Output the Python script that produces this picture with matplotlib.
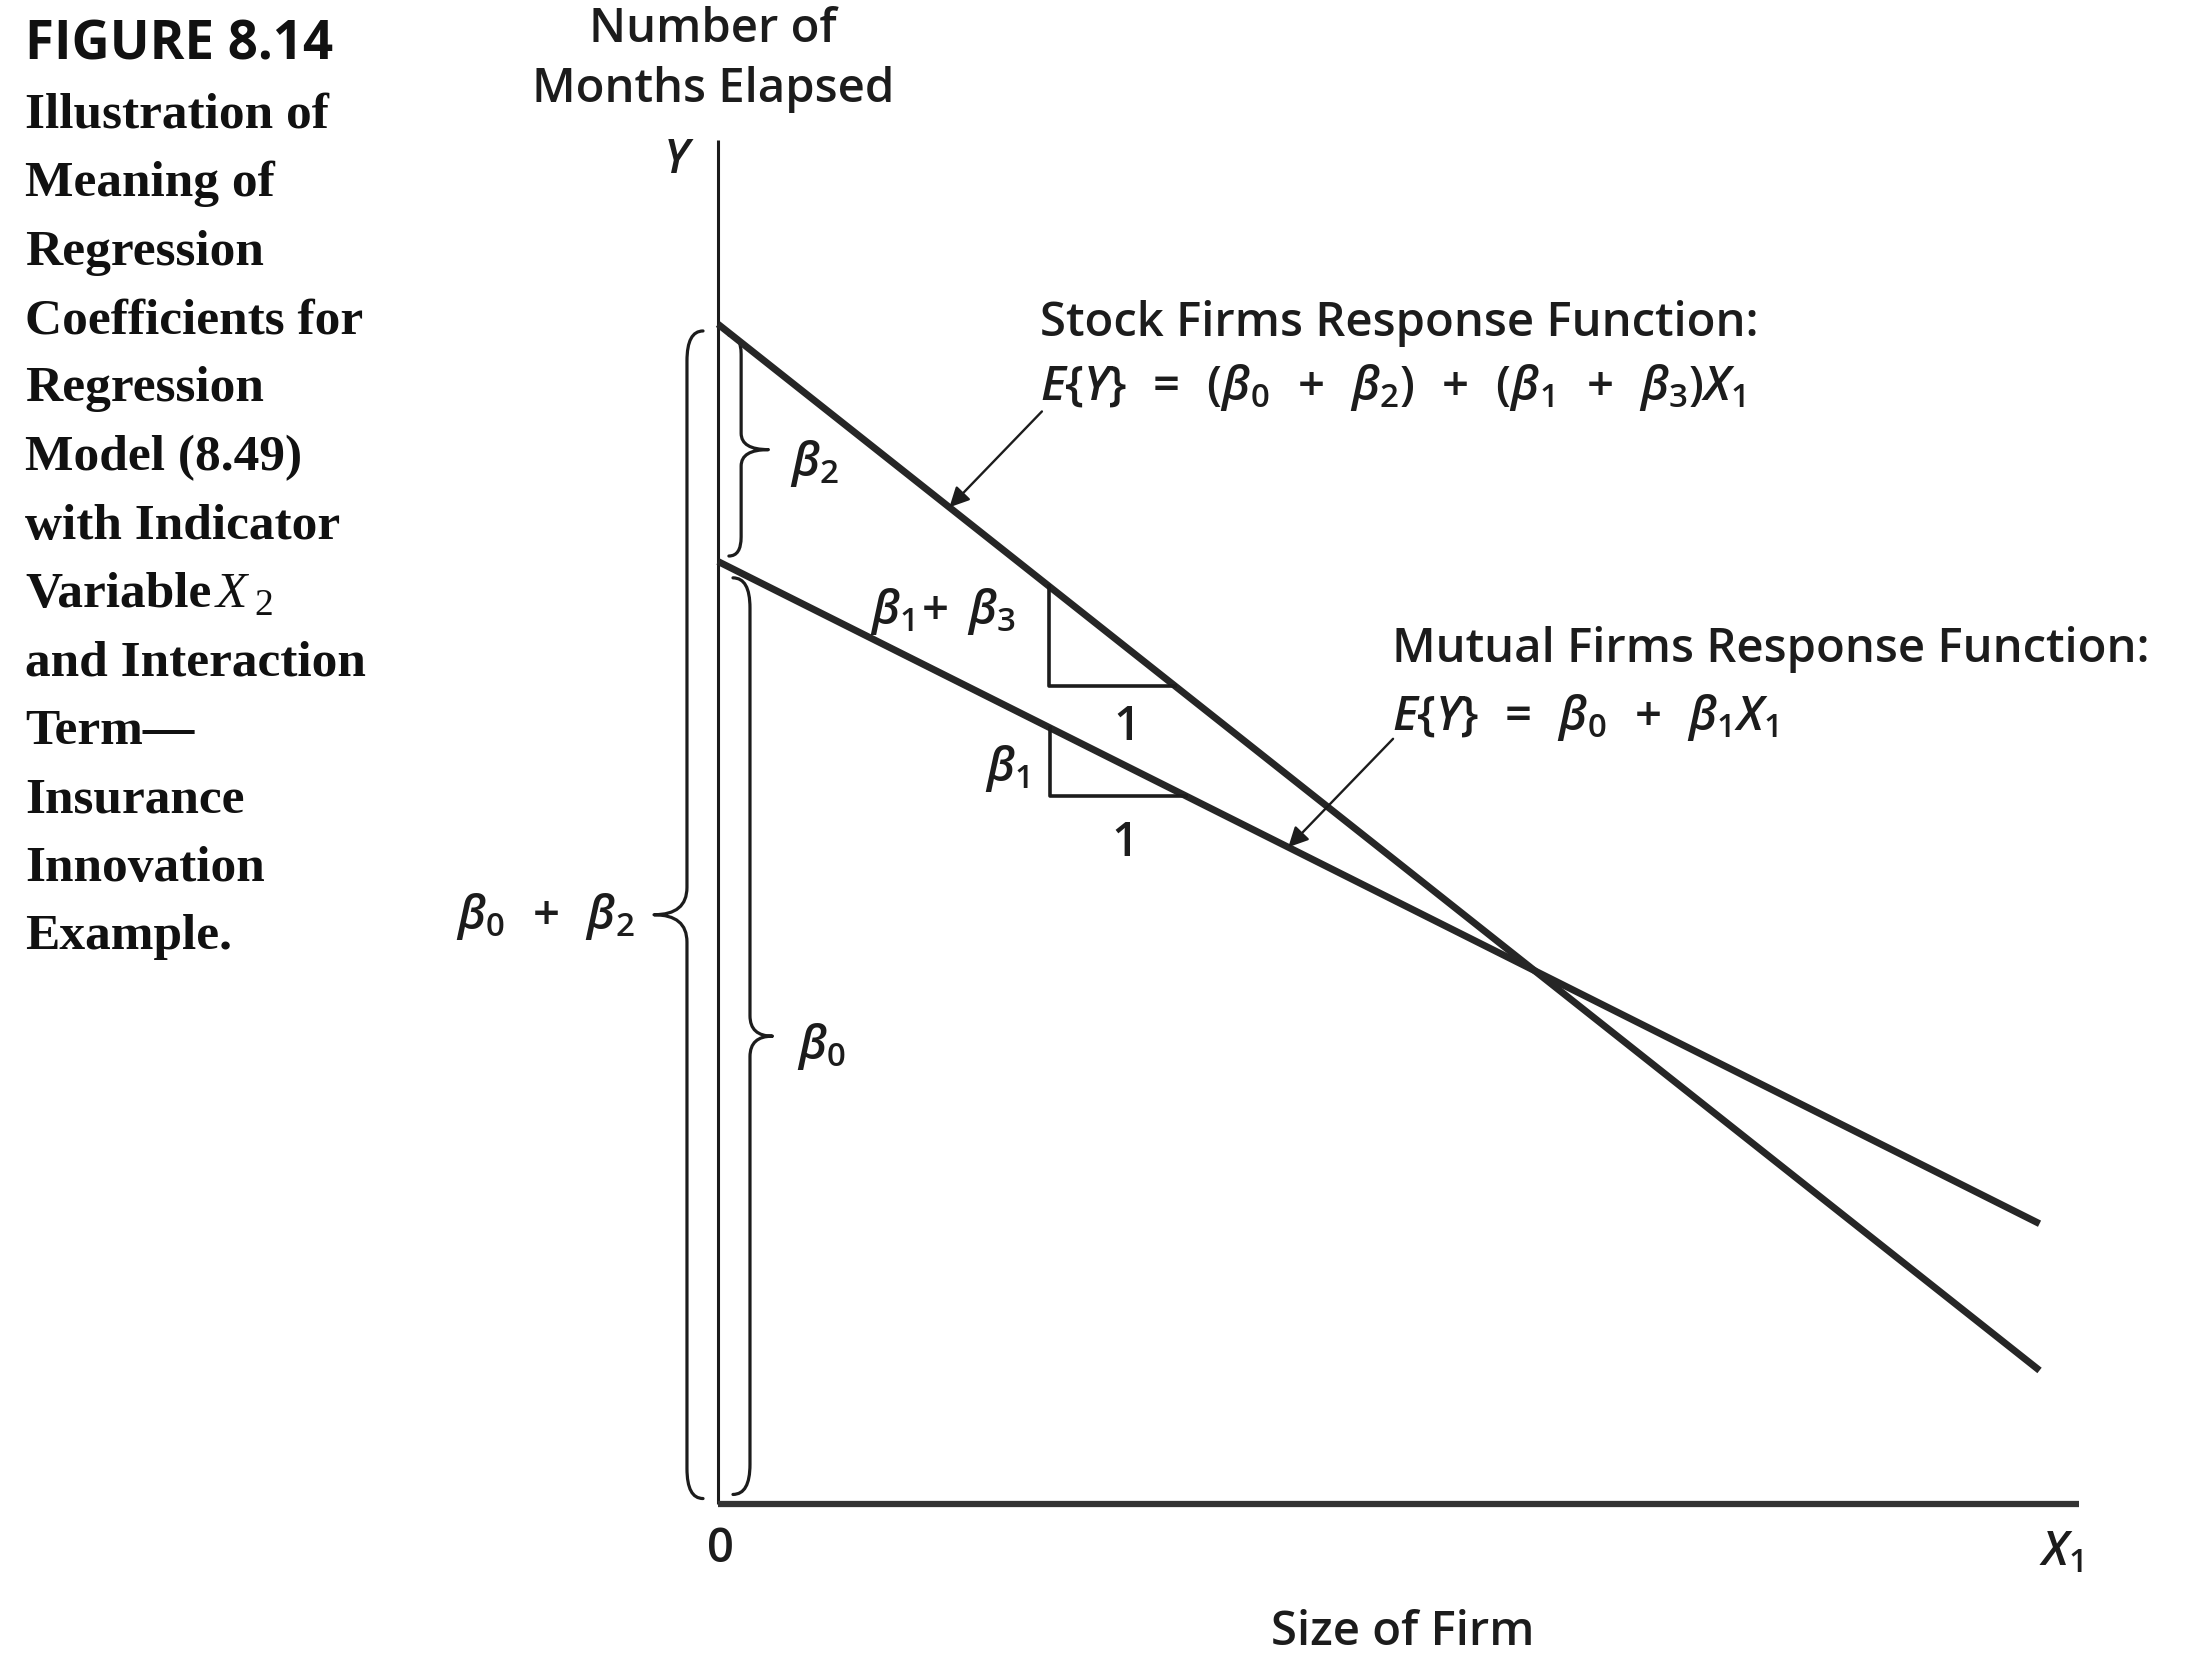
import matplotlib
matplotlib.use("Agg")
import matplotlib.pyplot as plt
from matplotlib.path import Path
from matplotlib.patches import PathPatch
import numpy as np

# ---------------- data (arbitrary units) ----------------
beta0 = 6.91          # mutual-firms intercept
beta2 = 1.74          # stock-firms intercept shift
beta1 = -0.50         # mutual-firms slope
beta3 = -0.29         # slope shift for stock firms
x_line_end = 9.71     # where both response lines stop
x_axis_end = 10.0
y_axis_top = 10.0
tri_stock_x = [2.43, 3.36]   # slope triangle on stock line
tri_mutual_x = [2.44, 3.44]  # slope triangle on mutual line
arrow_stock_x = [2.38, 1.70]   # tail x, tip x (tip sits on the line)
arrow_stock_tail_y = 8.01
arrow_mutual_x = [4.96, 4.19]
arrow_mutual_tail_y = 5.61

caption_lines = ["Illustration of", "Meaning of", "Regression", "Coefficients for",
                 "Regression", "Model (8.49)", "with Indicator", "Variable",
                 "and Interaction", "Term\u2014", "Insurance", "Innovation", "Example."]

INK = "#1c1c1c"
plt.rcParams['mathtext.fontset'] = 'custom'
plt.rcParams['mathtext.rm'] = 'Open Sans:semibold'
plt.rcParams['mathtext.it'] = 'Open Sans:italic:semibold'
plt.rcParams['mathtext.bf'] = 'Open Sans:bold'
plt.rcParams['font.family'] = ['Open Sans', 'DejaVu Sans']

W, H = 2200, 1661
fig = plt.figure(figsize=(W / 100, H / 100), dpi=100)
fig.patch.set_facecolor("white")
ax = fig.add_axes([718 / W, (H - 1504) / H, 1361 / W, 1364 / H])
ax.set_xlim(0, 10)
ax.set_ylim(0, 10)
ax.axis("off")


def ftext(px, py, s, **kw):
    kw.setdefault("color", INK)
    kw.setdefault("fontweight", 600)
    return fig.text(px / W, 1 - py / H, s, **kw)


# ---------------- axes ----------------
ax.plot([0, 0], [0, y_axis_top], color=INK, lw=2.2, solid_capstyle="butt", clip_on=False)
ax.plot([0, x_axis_end], [0, 0], color="#333333", lw=4.5, solid_capstyle="butt", clip_on=False)

# ---------------- response lines ----------------
xs = np.array([0.0, x_line_end])
stock_int, stock_slope = beta0 + beta2, beta1 + beta3
mut_int, mut_slope = beta0, beta1


def stock(x):
    return stock_int + stock_slope * np.asarray(x)


def mutual(x):
    return mut_int + mut_slope * np.asarray(x)


ax.plot(xs, stock(xs), color="#262626", lw=5.0, solid_capstyle="butt", clip_on=False)
ax.plot(xs, mutual(xs), color="#262626", lw=5.0, solid_capstyle="butt", clip_on=False)

# slope triangles
for (a, b), f in ((tri_stock_x, stock), (tri_mutual_x, mutual)):
    ax.plot([a, a, b], [f(a), f(b), f(b)], color=INK, lw=2.6, clip_on=False)

# arrows
ax.annotate("", xy=(arrow_stock_x[1], float(stock(arrow_stock_x[1]))),
            xytext=(arrow_stock_x[0], arrow_stock_tail_y),
            arrowprops=dict(arrowstyle="-|>", lw=1.7, color=INK, mutation_scale=30,
                            shrinkA=0, shrinkB=0))
ax.annotate("", xy=(arrow_mutual_x[1], float(mutual(arrow_mutual_x[1]))),
            xytext=(arrow_mutual_x[0], arrow_mutual_tail_y),
            arrowprops=dict(arrowstyle="-|>", lw=1.7, color=INK, mutation_scale=30,
                            shrinkA=0, shrinkB=0))


# ---------------- braces ----------------
def brace(xs_, y0, y1, tip, hook, r=0.16, rt=0.17, ym=None):
    """Vertical curly brace with spine at xs_, tip at x=tip, ends hooking to x=hook."""
    if ym is None:
        ym = 0.5 * (y0 + y1)
    verts = [(hook, y1), (xs_, y1), (xs_, y1 - r),
             (xs_, ym + rt),
             (xs_, ym), (tip, ym),
             (xs_, ym), (xs_, ym - rt),
             (xs_, y0 + r),
             (xs_, y0), (hook, y0)]
    codes = [Path.MOVETO, Path.CURVE3, Path.CURVE3,
             Path.LINETO,
             Path.CURVE3, Path.CURVE3,
             Path.CURVE3, Path.CURVE3,
             Path.LINETO,
             Path.CURVE3, Path.CURVE3]
    ax.add_patch(PathPatch(Path(verts, codes), fill=False, lw=2.3, edgecolor=INK,
                           capstyle="round", joinstyle="round", clip_on=False))


# big brace left of axis: 0 .. beta0+beta2
brace(-0.228, 0.04, beta0 + beta2 - 0.05, tip=-0.47, hook=-0.11, r=0.22, rt=0.2)
# beta2 brace right of axis
brace(0.17, beta0 + 0.04, beta0 + beta2 - 0.08, tip=0.37, hook=0.08, r=0.14, rt=0.12,
      ym=beta0 + 0.5 * beta2 - 0.05)
# beta0 brace right of axis
brace(0.235, 0.07, beta0 - 0.12, tip=0.40, hook=0.11, r=0.22, rt=0.15)

# ---------------- labels ----------------
FS = 34
S = r"\;\,"
ftext(713, 42, "Number of", ha="center", va="baseline", fontsize=FS)
ftext(713, 102, "Months Elapsed", ha="center", va="baseline", fontsize=FS)
ftext(679, 173, r"$Y$", ha="center", va="baseline", fontsize=FS)
ftext(720, 1562, "0", ha="center", va="baseline", fontsize=FS)
ftext(2039, 1565, r"$X_1$", ha="left", va="baseline", fontsize=FS)
ftext(1403, 1645, "Size of Firm", ha="center", va="baseline", fontsize=FS)

ftext(1040, 336, "Stock Firms Response Function:", ha="left", va="baseline", fontsize=FS)
ftext(1040, 400,
      r"$E\{Y\}" + S + "=" + S + r"(\beta_0" + S + "+" + S + r"\beta_2)" + S + "+" + S
      + r"(\beta_1" + S + "+" + S + r"\beta_3)X_1$",
      ha="left", va="baseline", fontsize=FS)
ftext(1392, 662, "Mutual Firms Response Function:", ha="left", va="baseline", fontsize=FS)
ftext(1392, 730, r"$E\{Y\}" + S + "=" + S + r"\beta_0" + S + "+" + S + r"\beta_1X_1$",
      ha="left", va="baseline", fontsize=FS)

ftext(790, 476, r"$\beta_2$", ha="left", va="baseline", fontsize=FS)
ftext(870, 624, r"$\beta_1\!+\;\beta_3$", ha="left", va="baseline", fontsize=FS)
ftext(1127, 740, "1", ha="center", va="baseline", fontsize=FS)
ftext(985, 781, r"$\beta_1$", ha="left", va="baseline", fontsize=FS)
ftext(1125, 856, "1", ha="center", va="baseline", fontsize=FS)
ftext(797, 1059, r"$\beta_0$", ha="left", va="baseline", fontsize=FS)
ftext(456, 929, r"$\beta_0" + S + "+" + S + r"\beta_2$", ha="left", va="baseline", fontsize=FS)

# ---------------- caption ----------------
ftext(25, 59, "FIGURE 8.14", ha="left", va="baseline", fontsize=38, fontweight="bold",
      family=["Open Sans", "DejaVu Sans"], color="#111111")
for i, line in enumerate(caption_lines):
    ftext(25, 59 + 68.5 * (i + 1), line, ha="left", va="baseline", fontsize=37,
          fontweight="bold", family=["Liberation Serif", "DejaVu Serif"], color="#111111")
vi = caption_lines.index("Variable") + 1
ftext(216, 59 + 68.5 * vi, "X", ha="left", va="baseline", fontsize=37, style="italic",
      fontweight="normal", family=["Liberation Serif", "DejaVu Serif"], color="#111111")
ftext(254, 59 + 68.5 * vi + 8, "2", ha="left", va="baseline", fontsize=27,
      fontweight="normal", family=["Liberation Serif", "DejaVu Serif"], color="#111111")

fig.savefig("out.png", dpi=100, facecolor="white")
